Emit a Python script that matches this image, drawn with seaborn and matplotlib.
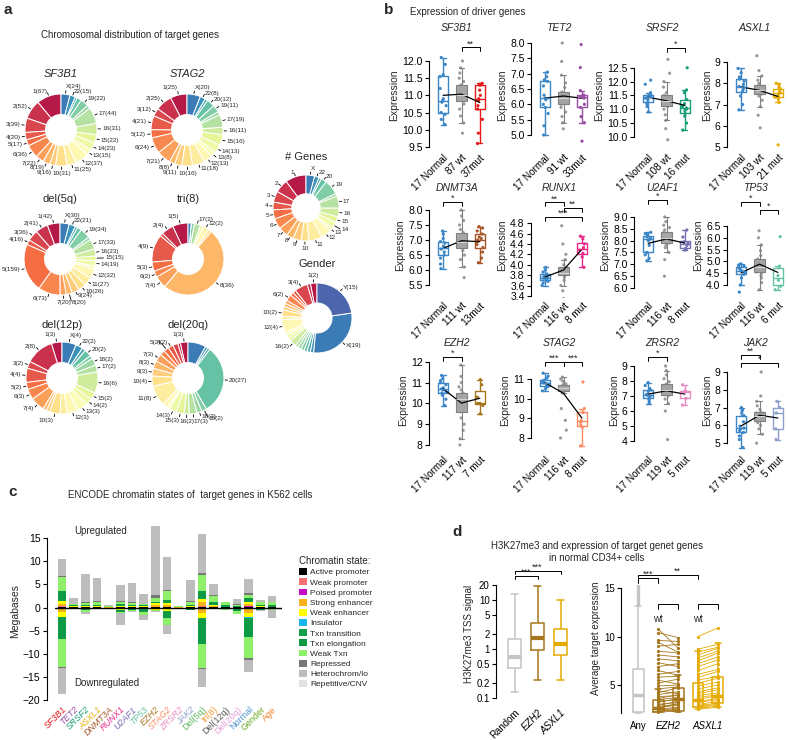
"""Multi-panel figure: chromosome donuts, driver-gene expression, chromatin states, H3K27me3."""

import matplotlib.pyplot as plt
import numpy as np
import pandas as pd
import seaborn as sns
from matplotlib.patches import Patch
from matplotlib.ticker import FormatStrFormatter, NullLocator

sns.set_style("ticks")
plt.rcParams["font.family"] = ["Liberation Sans", "DejaVu Sans"]
plt.rcParams["font.size"] = 7
plt.rcParams["axes.edgecolor"] = "black"
plt.rcParams["axes.linewidth"] = 0.8
plt.rcParams["xtick.color"] = "black"
plt.rcParams["ytick.color"] = "black"
plt.rcParams["xtick.major.size"] = 3
plt.rcParams["ytick.major.size"] = 3
plt.rcParams["xtick.major.width"] = 0.8
plt.rcParams["ytick.major.width"] = 0.8

# ---------------- panel a: chromosome counts ----------------
CHROMS = ["1", "2", "3", "4", "5", "6", "7", "8", "9", "10", "11", "12",
          "13", "14", "15", "16", "17", "18", "19", "20", "21", "22", "X", "Y"]
SF3B1_CHR = [67, 52, 39, 20, 17, 36, 22, 19, 16, 31, 25, 37, 15, 23, 22, 31, 44, 10, 22, 12, 6, 15, 24]
STAG2_CHR = [25, 25, 12, 21, 12, 24, 21, 8, 11, 16, 18, 13, 8, 13, 16, 11, 19, 5, 11, 12, 4, 8, 20]
DEL5Q_CHR = [42, 41, 36, 16, 159, 73, 20, 20, 24, 26, 27, 32, 10, 19, 15, 23, 33, 10, 34, 14, 8, 21, 30]
TRI8_CHR = [5, 4, 1, 9, 3, 2, 4, 36, 0, 1, 0, 2, 0, 1, 0, 0, 2, 0, 1, 0, 0, 0, 1]
DEL12P_CHR = [3, 8, 2, 4, 2, 3, 4, 1, 1, 3, 2, 3, 3, 2, 2, 6, 2, 2, 1, 2, 1, 2, 4]
DEL20Q_CHR = [3, 1, 2, 2, 2, 2, 3, 3, 3, 4, 8, 2, 1, 3, 3, 2, 3, 2, 2, 27, 1, 1, 7]
GENES_CHR = [2050, 1300, 1080, 760, 880, 1040, 940, 690, 790, 750, 1300, 1030,
             330, 610, 600, 860, 1180, 270, 1470, 550, 240, 450, 840]
GENDER_CHR = [2, 1, 4, 1, 1, 2, 1, 1, 1, 2, 1, 4, 1, 1, 1, 2, 1, 1, 1, 1, 1, 1, 19, 15]

SF3B1_LAB = ["1", "2", "3", "4", "5", "6", "7", "8", "9", "10", "11", "12", "13", "14",
             "15", "16", "17", "19", "22", "X"]
STAG2_LAB = ["1", "2", "3", "4", "5", "6", "7", "8", "9", "10", "11", "12", "13", "14",
             "15", "16", "17", "19", "20", "22", "X"]
DEL5Q_LAB = ["1", "2", "3", "4", "5", "6", "7", "8", "9", "10", "11", "12", "14",
             "15", "16", "17", "19", "22", "X"]
TRI8_LAB = ["1", "2", "4", "5", "6", "7", "8", "12", "17"]
DEL12P_LAB = ["1", "2", "3", "4", "5", "6", "7", "10", "12", "13", "14", "15", "16",
              "17", "18", "20", "22", "X"]
DEL20Q_LAB = ["1", "4", "5", "7", "8", "9", "10", "11", "14", "15", "16", "17", "18", "19", "20"]
GENES_LAB = ["1", "2", "3", "4", "5", "6", "7", "8", "9", "10", "11", "12", "13", "14",
             "15", "16", "17", "19", "20", "22", "X"]
GENDER_LAB = ["1", "3", "6", "10", "12", "16", "X", "Y"]

# ---------------- panel b: expression values ----------------
EXPR_GENES = ["SF3B1", "TET2", "SRSF2", "ASXL1", "DNMT3A", "RUNX1",
              "U2AF1", "TP53", "EZH2", "STAG2", "ZRSR2", "JAK2"]
MUT_COLORS = {"SF3B1": "#e41a1c", "TET2": "#984ea3", "SRSF2": "#1b9e77", "ASXL1": "#e6ab02",
              "DNMT3A": "#a65628", "RUNX1": "#e7298a", "U2AF1": "#7570b3", "TP53": "#66c2a5",
              "EZH2": "#a6761d", "STAG2": "#fc8d62", "ZRSR2": "#e78ac3", "JAK2": "#8da0cb"}
N_LABELS = {"SF3B1": ["87 wt", "37mut"], "TET2": ["91 wt", "33mut"], "SRSF2": ["108 wt", "16 mut"],
            "ASXL1": ["103 wt", "21 mut"], "DNMT3A": ["111 wt", "13mut"], "RUNX1": ["116 wt", "8 mut"],
            "U2AF1": ["116 wt", "8 mut"], "TP53": ["116 wt", "6 mut"], "EZH2": ["117 wt", "7 mut"],
            "STAG2": ["116 wt", "8 mut"], "ZRSR2": ["119 wt", "5 mut"], "JAK2": ["119 wt", "5 mut"]}
NORMAL_VALUES = {
    "SF3B1": [10.15, 10.3, 10.45, 10.5, 10.7, 10.8, 10.85, 10.9, 11.2, 11.55, 11.6, 11.9, 12.1],
    "TET2": [5.0, 5.3, 5.7, 5.9, 6.0, 6.15, 6.2, 6.3, 6.6, 6.75, 6.8, 6.9, 7.05],
    "SRSF2": [10.9, 11.1, 11.2, 11.25, 11.35, 11.4, 11.45, 11.47, 11.48, 11.5, 11.6, 11.9, 12.05],
    "ASXL1": [6.75, 7.0, 7.4, 7.6, 7.7, 7.8, 7.85, 7.95, 8.1, 8.2, 8.3, 8.5, 8.7],
    "DNMT3A": [6.05, 6.2, 6.4, 6.5, 6.6, 6.7, 6.75, 6.8, 6.9, 6.95, 7.05, 7.2, 7.3],
    "RUNX1": [3.6, 3.65, 3.68, 3.7, 3.72, 3.74, 3.75, 3.77, 3.8, 3.82, 3.86, 3.9, 3.95],
    "U2AF1": [7.15, 7.25, 7.4, 7.5, 7.8, 8.0, 8.05, 8.1, 8.15, 8.2, 8.25, 8.3, 8.35],
    "TP53": [3.7, 4.0, 4.3, 4.45, 4.5, 4.55, 4.6, 4.65, 4.7, 4.75, 4.8, 4.85, 4.9],
    "EZH2": [9.9, 10.2, 10.4, 10.5, 10.55, 10.65, 10.7, 10.75, 10.9, 11.0, 11.1, 11.2, 11.35],
    "STAG2": [10.4, 10.5, 10.6, 10.65, 10.7, 10.75, 10.8, 10.85, 10.9, 10.95, 11.05, 11.15, 11.3],
    "ZRSR2": [6.5, 6.65, 6.8, 6.85, 6.9, 7.0, 7.05, 7.1, 7.3, 7.4, 7.5, 7.7, 7.9],
    "JAK2": [4.75, 5.2, 5.4, 5.6, 5.7, 5.8, 5.85, 5.95, 6.2, 6.55, 6.7, 6.85, 7.0],
}
WT_VALUES = {
    "SF3B1": [9.9, 10.2, 10.4, 10.6, 10.75, 10.85, 10.9, 10.95, 10.97, 10.99, 11.0, 11.05, 11.1,
              11.15, 11.25, 11.3, 11.4, 11.5, 11.65, 11.8, 12.0],
    "TET2": [5.2, 5.4, 5.6, 5.75, 5.9, 6.0, 6.05, 6.1, 6.15, 6.18, 6.2, 6.23, 6.27, 6.32, 6.37,
             6.4, 6.55, 6.7, 6.95, 7.4, 8.0],
    "SRSF2": [9.9, 10.3, 10.6, 10.8, 11.0, 11.1, 11.15, 11.2, 11.25, 11.28, 11.3, 11.33, 11.37,
              11.42, 11.46, 11.5, 11.6, 11.8, 12.0, 12.3, 12.8],
    "ASXL1": [5.9, 6.5, 6.9, 7.2, 7.4, 7.5, 7.55, 7.6, 7.65, 7.68, 7.7, 7.73, 7.77, 7.82, 7.86,
              7.9, 8.0, 8.15, 8.35, 8.6, 9.3],
    "DNMT3A": [5.75, 6.1, 6.35, 6.5, 6.65, 6.75, 6.8, 6.85, 6.9, 6.93, 6.95, 7.0, 7.08, 7.15,
               7.2, 7.25, 7.35, 7.5, 7.65, 7.8, 8.0],
    "RUNX1": [3.35, 3.5, 3.6, 3.7, 3.76, 3.8, 3.81, 3.82, 3.83, 3.84, 3.85, 3.87, 3.89, 3.91,
              3.93, 3.95, 4.0, 4.1, 4.2, 4.4, 4.75],
    "U2AF1": [6.5, 7.2, 7.5, 7.7, 7.8, 7.9, 7.95, 8.0, 8.05, 8.08, 8.1, 8.14, 8.2, 8.25, 8.3,
              8.35, 8.45, 8.55, 8.65, 8.8, 9.0],
    "TP53": [3.8, 4.1, 4.3, 4.4, 4.5, 4.55, 4.6, 4.65, 4.7, 4.72, 4.75, 4.8, 4.88, 4.95, 5.03,
             5.1, 5.25, 5.45, 5.7, 6.0, 6.3],
    "EZH2": [8.0, 8.3, 8.7, 9.0, 9.3, 9.6, 9.75, 9.9, 10.0, 10.1, 10.2, 10.25, 10.3, 10.4, 10.45,
             10.5, 10.65, 10.8, 11.0, 11.3, 11.85],
    "STAG2": [8.0, 8.4, 8.9, 9.5, 10.3, 10.4, 10.45, 10.48, 10.5, 10.53, 10.55, 10.57, 10.6,
              10.63, 10.66, 10.7, 10.75, 10.8, 10.9, 11.0, 11.1],
    "ZRSR2": [4.1, 6.0, 6.5, 6.8, 7.0, 7.1, 7.15, 7.2, 7.3, 7.35, 7.4, 7.45, 7.55, 7.65, 7.75,
              7.8, 7.95, 8.15, 8.4, 8.7, 9.0],
    "JAK2": [5.0, 5.5, 5.8, 6.0, 6.15, 6.25, 6.3, 6.35, 6.4, 6.45, 6.5, 6.55, 6.6, 6.65, 6.7,
             6.75, 6.9, 7.1, 7.35, 7.65, 9.0],
}
MUT_VALUES = {
    "SF3B1": [9.6, 9.9, 10.3, 10.6, 10.7, 10.85, 10.9, 11.0, 11.15, 11.3, 11.3, 11.32, 11.35],
    "TET2": [4.8, 5.4, 5.6, 5.9, 6.0, 6.2, 6.25, 6.27, 6.28, 6.3, 6.45, 7.2, 7.95],
    "SRSF2": [10.25, 10.5, 10.75, 10.85, 10.95, 11.0, 11.05, 11.1, 11.2, 11.35, 11.6, 11.7, 12.5],
    "ASXL1": [5.1, 7.1, 7.25, 7.35, 7.4, 7.5, 7.55, 7.6, 7.7, 7.75, 7.8, 7.9, 8.0],
    "DNMT3A": [6.25, 6.4, 6.6, 6.75, 6.85, 6.95, 7.0, 7.05, 7.1, 7.2, 7.3, 7.4, 7.45],
    "RUNX1": [3.95, 4.15, 4.22, 4.28, 4.33, 4.4, 4.5, 4.55],
    "U2AF1": [7.6, 7.63, 7.68, 7.8, 7.9, 7.95, 8.15, 8.45],
    "TP53": [3.8, 3.95, 4.2, 4.4, 4.8, 6.05],
    "EZH2": [9.5, 9.9, 10.0, 10.0, 10.3, 10.9, 11.15],
    "STAG2": [7.6, 8.55, 8.65, 8.8, 8.9, 9.3, 9.5, 10.85],
    "ZRSR2": [6.4, 6.85, 7.3, 7.35, 7.75],
    "JAK2": [5.2, 5.8, 6.7, 7.0, 7.35],
}
# significance brackets: (group i, group j, label, height)
EXPR_SIG = {
    "SF3B1": [(1, 2, "**", 12.4)], "TET2": [], "SRSF2": [(1, 2, "*", 13.22)], "ASXL1": [],
    "DNMT3A": [(0, 1, "*", 8.27)],
    "RUNX1": [(0, 1, "**", 5.2), (1, 2, "**", 5.09), (0, 2, "***", 4.92)],
    "U2AF1": [(0, 1, "*", 9.72)], "TP53": [(0, 1, "*", 7.52), (1, 2, "*", 7.18)],
    "EZH2": [(0, 1, "*", 12.24)], "STAG2": [(0, 1, "***", 11.86), (1, 2, "***", 11.86)],
    "ZRSR2": [(0, 1, "*", 9.6)], "JAK2": [(0, 1, "**", 9.96), (0, 2, "*", 9.5)],
}
EXPR_YLIM = {"SF3B1": (9.41, 12.61), "TET2": (4.51, 8.1), "SRSF2": (9.53, 13.5), "ASXL1": (4.86, 10.04),
             "DNMT3A": (5.07, 8.6), "RUNX1": (3.36, 5.4), "U2AF1": (5.58, 10.05), "TP53": (3.45, 7.94),
             "EZH2": (7.66, 12.67), "STAG2": (7.29, 12.58), "ZRSR2": (3.27, 10.2), "JAK2": (4.5, 10.35)}
EXPR_TICKS = {"SF3B1": (9.5, 12.0, 0.5), "TET2": (5.0, 8.0, 0.5), "SRSF2": (10.0, 12.5, 0.5),
              "ASXL1": (5, 9, 1), "DNMT3A": (5.5, 8.0, 0.5), "RUNX1": (3.4, 4.8, 0.2),
              "U2AF1": (6.0, 9.0, 0.5), "TP53": (4.0, 6.5, 0.5), "EZH2": (8, 12, 1),
              "STAG2": (8, 11, 1), "ZRSR2": (4, 9, 1), "JAK2": (5, 9, 1)}

# ---------------- panel c: chromatin states (Mb) ----------------
STATES = ["Active promoter", "Weak promoter", "Poised promoter", "Strong enhancer",
          "Weak enhancer", "Insulator", "Txn transition", "Txn elongation", "Weak Txn",
          "Repressed", "Heterochrom/lo", "Repetitive/CNV"]
STATE_COLORS = ["#000000", "#f47171", "#c40cc4", "#f7b21c", "#ffff00", "#18b4ef",
                "#10a04c", "#0c9a46", "#8ef06a", "#777777", "#bdbdbd", "#e2e2e2"]
CHROM_GROUPS = ["SF3B1", "TET2", "SRSF2", "ASXL1", "DNMT3A", "RUNX1", "U2AF1", "TP53", "EZH2",
                "STAG2", "ZRSR2", "JAK2", "Del(5q)", "tri(8)", "Del(12q)", "Del(20q)",
                "Normal", "Gender", "Age"]
GROUP_COLORS = ["#e41a1c", "#984ea3", "#1b9e77", "#e6ab02", "#a65628", "#e7298a", "#7570b3",
                "#66c2a5", "#a6761d", "#fc8d62", "#e78ac3", "#8da0cb", "#5cb85c", "#f59b3a",
                "#555555", "#e6a3dc", "#4f95d0", "#66a61e", "#f07f2e"]
CHROM_UP = [
    [0.15, 0.1, 0.05, 0.55, 0.6, 0.05, 0.35, 1.65, 3.1, 0.3, 3.6, 0],
    [0.02, 0.02, 0, 0.1, 0.15, 0, 0.05, 0.15, 0.3, 0.05, 1.15, 0],
    [0.02, 0.02, 0, 0.1, 0.15, 0, 0.05, 0.2, 0.5, 0.15, 6.1, 0],
    [0.02, 0.02, 0, 0.1, 0.15, 0, 0.05, 0.2, 0.7, 0.1, 4.96, 0],
    [0, 0, 0, 0.05, 0.05, 0, 0, 0.05, 0.1, 0, 0.25, 0],
    [0.02, 0.02, 0, 0.15, 0.2, 0, 0.05, 0.3, 0.5, 0.1, 3.56, 0],
    [0.02, 0.02, 0, 0.1, 0.15, 0, 0.05, 0.2, 0.4, 0.15, 4.31, 0],
    [0.02, 0.02, 0, 0.1, 0.1, 0, 0.05, 0.15, 0.35, 0.05, 2.16, 0],
    [0.05, 0.05, 0.05, 0.35, 0.5, 0, 0.05, 0.2, 0.8, 0.55, 15.0, 0],
    [0.05, 0.05, 0.02, 0.4, 0.5, 0, 0.1, 0.6, 1.8, 0.3, 7.18, 0],
    [0, 0, 0, 0.05, 0.05, 0, 0, 0.05, 0.1, 0, 0.05, 0],
    [0.02, 0.02, 0, 0.1, 0.15, 0, 0.05, 0.3, 0.6, 0.1, 4.56, 0],
    [0.2, 0.1, 0.05, 0.75, 0.7, 0.05, 0.3, 1.35, 3.5, 0.4, 8.4, 0],
    [0.02, 0.02, 0, 0.2, 0.3, 0, 0.05, 0.5, 1.5, 0.1, 2.31, 0],
    [0.02, 0.02, 0, 0.05, 0.1, 0, 0.05, 0.4, 0.56, 0, 0, 0],
    [0.02, 0.02, 0, 0.05, 0.1, 0, 0.02, 0.1, 0.3, 0.05, 1.24, 0],
    [0.15, 0.05, 0.03, 0.5, 0.47, 0, 0.1, 0.7, 0.8, 0.4, 2.9, 0],
    [0.02, 0.02, 0, 0.05, 0.15, 0, 0.05, 0.3, 0.5, 0.05, 0.46, 0],
    [0.02, 0.02, 0, 0.05, 0.1, 0, 0.05, 0.2, 0.8, 0.05, 1.21, 0],
]
CHROM_DOWN = [
    [0.2, 0.1, 0.05, 0.7, 0.9, 0.05, 0.4, 4.4, 6.0, 0.3, 5.6, 0],
    [0, 0, 0, 0.05, 0.05, 0, 0, 0.05, 0.1, 0, 0.1, 0],
    [0.02, 0.02, 0, 0.1, 0.1, 0, 0.05, 0.25, 0.35, 0.05, 0.45, 0],
    [0, 0, 0, 0.05, 0.1, 0, 0, 0.05, 0.1, 0, 0, 0],
    [0, 0, 0, 0, 0.05, 0, 0, 0, 0.05, 0, 0, 0],
    [0.02, 0.02, 0, 0.15, 0.25, 0, 0.05, 0.4, 0.3, 0.05, 2.46, 0],
    [0.02, 0.02, 0, 0.05, 0.1, 0, 0.05, 0.3, 0.3, 0, 0.16, 0],
    [0.02, 0.02, 0, 0.1, 0.15, 0, 0.05, 0.6, 0.6, 0.05, 1.21, 0],
    [0.02, 0.02, 0.02, 0.2, 0.3, 0, 0, 0.05, 0.1, 0.05, 0.14, 0],
    [0.05, 0.05, 0.02, 0.3, 0.4, 0, 0.1, 1.3, 1.5, 0.1, 1.98, 0],
    [0, 0, 0, 0, 0.05, 0, 0, 0, 0.05, 0, 0, 0],
    [0.02, 0.02, 0, 0.05, 0.1, 0, 0.05, 0.2, 0.15, 0, 0, 0],
    [0.2, 0.1, 0.05, 0.9, 1.0, 0.05, 0.5, 5.0, 5.3, 0.2, 3.9, 0],
    [0.02, 0.02, 0, 0.05, 0.1, 0, 0.02, 0.05, 0.04, 0, 0, 0],
    [0.02, 0.02, 0, 0.05, 0.1, 0, 0.05, 0.1, 0.16, 0, 0, 0],
    [0.02, 0.02, 0, 0.05, 0.15, 0, 0.05, 0.5, 0.56, 0.05, 0.1, 0],
    [0.2, 0.1, 0.05, 0.9, 0.9, 0.05, 0.4, 3.7, 4.7, 0.3, 2.6, 0],
    [0.02, 0.02, 0, 0.05, 0.1, 0, 0.05, 0.2, 0.2, 0, 0.06, 0],
    [0.02, 0.02, 0, 0.05, 0.1, 0, 0.02, 0.1, 0.3, 0, 1.69, 0],
]

# ---------------- panel d ----------------
H3K_GROUPS = ["Random", "EZH2", "ASXL1"]
H3K_COLORS = ["#c4c4c4", "#a6761d", "#e6ab02"]
# five-number summaries (min, q1, median, q3, max)
H3K_SUMMARY = [[0.13, 0.4, 0.68, 1.6, 13.0], [0.23, 0.95, 1.7, 3.3, 19.0], [0.23, 0.75, 1.25, 2.6, 10.0]]
TGT_GROUPS = ["Any", "EZH2 wt", "EZH2 mut", "ASXL1 wt", "ASXL1 mut"]
TGT_COLORS = ["#c4c4c4", "#a6761d", "#a6761d", "#e6ab02", "#e6ab02"]
TGT_SUMMARY = [[2.1, 2.2, 4.0, 6.7, 13.2], [2.2, 2.25, 2.6, 3.45, 4.6], [2.2, 2.3, 3.6, 4.7, 6.0],
               [2.5, 2.7, 3.45, 5.2, 8.5], [2.7, 3.1, 3.9, 5.8, 9.3]]
ANY_HIGH = [13.4, 13.6, 13.8, 14.0, 14.2, 14.4, 14.6, 14.8, 15.0, 15.2]
EZH2_WT = [10.8, 10.4, 9.6, 9.4, 9.0, 8.5, 8.1, 7.7, 7.3, 6.9, 6.5, 6.1, 5.8, 5.5, 5.2, 4.9, 4.6,
           4.4, 4.2, 4.0, 3.8, 3.6, 3.5, 3.3, 3.2, 3.0, 2.9, 2.8, 2.7, 2.6, 2.5, 2.4, 2.3, 2.3, 2.2]
EZH2_MUT = [8.8, 9.9, 9.5, 8.4, 9.2, 8.3, 7.9, 7.5, 6.9, 7.2, 6.0, 6.4, 5.9, 5.1, 5.6, 5.0, 4.8,
            4.1, 4.7, 4.3, 3.9, 4.0, 3.7, 3.5, 3.6, 3.2, 3.3, 3.0, 2.9, 3.1, 2.7, 2.6, 2.5, 2.4, 2.3]
ASXL1_WT = [10.0, 8.7, 8.4, 8.1, 7.8, 7.5, 7.2, 6.9, 6.5, 6.1, 5.8, 5.5, 5.2, 4.9, 4.6, 4.3, 4.1,
            3.9, 3.7, 3.5, 3.3, 3.2, 3.0, 2.9, 2.8, 2.7, 2.6, 2.5]
ASXL1_MUT = [10.9, 9.2, 8.9, 8.8, 8.5, 8.3, 7.9, 7.6, 7.2, 6.6, 6.4, 5.9, 5.7, 5.3, 5.0, 4.7, 4.5,
             4.2, 4.0, 3.9, 3.6, 3.5, 3.3, 3.1, 3.0, 2.9, 2.8, 2.7]

NORMAL_COLOR = "#3a86c6"
WT_POINT = "#9a9a9a"
W, H = 788, 740

fig = plt.figure(figsize=(W / 100, H / 100), dpi=100)


def add_ax(x0, y0, x1, y1):
    return fig.add_axes([x0 / W, 1 - y1 / H, (x1 - x0) / W, (y1 - y0) / H])


def ftext(x, y, s, **kw):
    fig.text(x / W, 1 - y / H, s, **kw)


# ---------------- panel a ----------------
CHR_PAL = sns.color_palette("Spectral", 24)


def donut(cx, cy, r, counts, labeled, title, ty, italic=False, counts_in_label=True):
    ax = add_ax(cx - r, cy - r, cx + r, cy + r)
    wedges, _ = ax.pie(counts, colors=CHR_PAL[:len(counts)], startangle=90, counterclock=True,
                       wedgeprops=dict(width=0.57, edgecolor="white", linewidth=0.7))
    placed = []
    for w, name, n in zip(wedges, CHROMS, counts):
        if name not in labeled:
            continue
        ang = np.deg2rad((w.theta1 + w.theta2) / 2)
        c, s = np.cos(ang), np.sin(ang)
        rad = 1.14
        # push crowded labels outward so neighbours stay readable
        while placed and min(np.hypot(rad * c - px, rad * s - py) for px, py in placed) < 0.2 \
                and rad < 1.45:
            rad += 0.11
        placed.append((rad * c, rad * s))
        ax.plot([1.03 * c, (rad - 0.04) * c], [1.03 * s, (rad - 0.04) * s], color="black",
                lw=0.6, clip_on=False)
        ha = "left" if c > 0.1 else ("right" if c < -0.1 else "center")
        va = "center" if abs(c) > 0.25 else ("bottom" if s > 0 else "top")
        txt = f"{name}({n})" if counts_in_label else name
        ax.text(rad * c, rad * s, txt, ha=ha, va=va, fontsize=4.6, clip_on=False)
    ax.set_xlim(-1, 1)
    ax.set_ylim(-1, 1)
    ax.axis("off")
    ftext(cx, ty, title, ha="center", va="center", fontsize=8,
          fontstyle="italic" if italic else "normal")


ftext(4, 10, "a", fontsize=11, fontweight="bold", va="center")
ftext(130, 35, "Chromosomal distribution of target genes", ha="center", va="center", fontsize=7)
donut(61, 130, 36, SF3B1_CHR, SF3B1_LAB, "SF3B1", 74, italic=True)
donut(187, 130, 36, STAG2_CHR, STAG2_LAB, "STAG2", 74, italic=True)
donut(60, 259, 36, DEL5Q_CHR, DEL5Q_LAB, "del(5q)", 199)
donut(188, 259, 36, TRI8_CHR, TRI8_LAB, "tri(8)", 199)
donut(62, 378, 36, DEL12P_CHR, DEL12P_LAB, "del(12p)", 325)
donut(188, 378, 36, DEL20Q_CHR, DEL20Q_LAB, "del(20q)", 325)
donut(306, 208, 33, GENES_CHR, GENES_LAB, "# Genes", 157, counts_in_label=False)
donut(317, 318, 35, GENDER_CHR, GENDER_LAB, "Gender", 264)

# ---------------- panel b ----------------
ftext(384, 10, "b", fontsize=11, fontweight="bold", va="center")
ftext(410, 12, "Expression of driver genes", ha="left", va="center", fontsize=7)
COL_X = [433, 535, 638, 731]
ROW_Y = [(40, 150, 28), (192, 298, 188), (348, 452, 343)]
ORDER = ["Normal", "wt", "mut"]

for k, gene in enumerate(EXPR_GENES):
    row, col = divmod(k, 4)
    top, bot, ty = ROW_Y[row]
    ax = add_ax(COL_X[col], top, COL_X[col] + 57, bot)
    normal, wt, mut = NORMAL_VALUES[gene], WT_VALUES[gene], MUT_VALUES[gene]
    df = pd.DataFrame({"grp": ["Normal"] * len(normal) + ["wt"] * len(wt) + ["mut"] * len(mut),
                       "val": normal + wt + mut})
    pal = {"Normal": NORMAL_COLOR, "wt": WT_POINT, "mut": MUT_COLORS[gene]}
    sns.stripplot(data=df, x="grp", y="val", hue="grp", order=ORDER, hue_order=ORDER, palette=pal,
                  jitter=0.17, size=2.3, linewidth=0, legend=False, ax=ax, zorder=1)
    sns.boxplot(data=df[df.grp != "wt"], x="grp", y="val", hue="grp", order=ORDER, hue_order=ORDER,
                palette=pal, fill=False, width=0.55, linewidth=1.0, showfliers=False,
                legend=False, ax=ax)
    sns.boxplot(data=df[df.grp == "wt"], x="grp", y="val", order=ORDER, color="#a5a5a5",
                linecolor="#808080", width=0.55, linewidth=0.8, showfliers=False, ax=ax,
                medianprops={"color": "#d5d5d5"})
    sns.pointplot(data=df, x="grp", y="val", order=ORDER, estimator="mean", errorbar=None,
                  color="black", markersize=0, linewidth=0.9, ax=ax)
    lo, hi = EXPR_YLIM[gene]
    t0, t1, st = EXPR_TICKS[gene]
    ticks = np.arange(t0, t1 + st / 2, st)
    ax.set_ylim(lo, hi)
    ax.set_yticks(ticks)
    ax.yaxis.set_major_formatter(FormatStrFormatter("%d" if st >= 1 else "%.1f"))
    ax.set_xlim(-0.55, 2.55)
    sns.despine(ax=ax, bottom=True, offset={"left": 3})
    ax.spines["left"].set_bounds(t0, t1)
    ax.set_xticks([0, 1, 2])
    ax.set_xticklabels(["17 Normal"] + N_LABELS[gene], rotation=45, ha="right",
                       rotation_mode="anchor", fontsize=7.2)
    ax.tick_params(axis="x", length=0, pad=2)
    ax.tick_params(axis="y", labelsize=7.5, pad=1.5)
    ax.set_xlabel("")
    ax.set_ylabel("Expression", fontsize=7.5, labelpad=2)
    span = hi - lo
    for i, j, lab, y in EXPR_SIG[gene]:
        ax.plot([i, i, j, j], [y - span * 0.035, y, y, y - span * 0.035], color="black",
                lw=0.7, clip_on=False)
        ax.text((i + j) / 2, y - span * 0.01, lab, ha="center", va="bottom", fontsize=6.5)
    ftext(COL_X[col] + 24, ty, gene, ha="center", va="center", fontsize=7.5, fontstyle="italic")

# ---------------- panel c ----------------
ftext(8, 492, "c", fontsize=11, fontweight="bold", va="center")
ftext(190, 495, "ENCODE chromatin states of  target genes in K562 cells", ha="center",
      va="center", fontsize=7)
axc = add_ax(55, 520, 282, 702)
up = np.array(CHROM_UP)
down = np.array(CHROM_DOWN)
xpos = np.arange(len(CHROM_GROUPS))
b_up = np.zeros(len(CHROM_GROUPS))
b_dn = np.zeros(len(CHROM_GROUPS))
for s, color in enumerate(STATE_COLORS):
    axc.bar(xpos, up[:, s], bottom=b_up, width=0.75, color=color, linewidth=0)
    axc.bar(xpos, -down[:, s], bottom=-b_dn, width=0.75, color=color, linewidth=0)
    b_up += up[:, s]
    b_dn += down[:, s]
axc.axhline(0, color="black", lw=1.0)
axc.set_xlim(-0.6, len(CHROM_GROUPS) - 0.15)
axc.set_ylim(-20.4, 18.9)
axc.set_yticks([-20, -15, -10, -5, 0, 5, 10, 15])
sns.despine(ax=axc, bottom=True, offset={"left": 6})
axc.spines["left"].set_bounds(-20, 15)
axc.set_xticks(xpos)
axc.set_xticklabels(CHROM_GROUPS, rotation=45, ha="right", rotation_mode="anchor", fontsize=6.5)
for k, lab in enumerate(axc.get_xticklabels()):
    lab.set_color(GROUP_COLORS[k])
    if k < 12:
        lab.set_fontstyle("italic")
axc.tick_params(axis="x", length=0, pad=2)
axc.tick_params(axis="y", labelsize=7.5, pad=1.5)
axc.set_ylabel("Megabases", fontsize=7.5, labelpad=2)
axc.text(3.3, 16.5, "Upregulated", ha="center", va="center", fontsize=7)
axc.text(3.8, -16.2, "Downregulated", ha="center", va="center", fontsize=7)
handles = [Patch(facecolor=c, edgecolor="none", label=s) for s, c in zip(STATES, STATE_COLORS)]
fig.legend(handles=handles, title="Chromatin state:", loc="upper left",
           bbox_to_anchor=(296 / W, 1 - 553 / H), frameon=False, fontsize=6,
           title_fontsize=7, handlelength=0.9, handleheight=0.9, handletextpad=0.4,
           labelspacing=0.22, alignment="left", borderaxespad=0)

# ---------------- panel d ----------------
ftext(452, 532, "d", fontsize=11, fontweight="bold", va="center")
ftext(597, 552, "H3K27me3 and expression of target genet genes\nin normal CD34+ cells",
      ha="center", va="center", fontsize=7, linespacing=1.2)

axl = add_ax(503, 562, 572, 705)
dfl = pd.DataFrame({"grp": np.repeat(H3K_GROUPS, 5), "val": np.concatenate(H3K_SUMMARY)})
sns.boxplot(data=dfl, x="grp", y="val", hue="grp", order=H3K_GROUPS, hue_order=H3K_GROUPS,
            palette=H3K_COLORS, fill=False, whis=(0, 100), width=0.6, linewidth=1.1,
            showfliers=False, log_scale=True, legend=False, ax=axl,
            medianprops={"linewidth": 3})
axl.set_ylim(0.072, 59)
axl.set_yticks([0.1, 0.2, 0.5, 1, 2, 5, 10, 20])
axl.set_yticklabels(["0.1", "0.2", "0.5", "1", "2", "5", "10", "20"])
axl.yaxis.set_minor_locator(NullLocator())
axl.set_xlim(-0.5, 2.5)
sns.despine(ax=axl, bottom=True, offset={"left": 5})
axl.spines["left"].set_bounds(0.1, 20)
axl.set_xticks([0, 1, 2])
axl.set_xticklabels(H3K_GROUPS, rotation=45, ha="right", rotation_mode="anchor", fontsize=7)
for lab in axl.get_xticklabels()[1:]:
    lab.set_fontstyle("italic")
axl.tick_params(axis="x", length=0, pad=2)
axl.tick_params(axis="y", labelsize=7, pad=1.5)
axl.set_xlabel("")
axl.set_ylabel("H3K27me3 TSS signal", fontsize=7, labelpad=2)
for i, j, lab, y in [(0, 1, "***", 30.5), (0, 2, "***", 38.6)]:
    axl.plot([i, i, j, j], [y / 1.13, y, y, y / 1.13], color="black", lw=0.7, clip_on=False)
    axl.text((i + j) / 2, y * 0.97, lab, ha="center", va="bottom", fontsize=6.5)

axr = add_ax(628, 562, 728, 715)
dfr = pd.DataFrame({"grp": np.repeat(TGT_GROUPS, 5), "val": np.concatenate(TGT_SUMMARY)})
sns.boxplot(data=dfr, x="grp", y="val", hue="grp", order=TGT_GROUPS, hue_order=TGT_GROUPS,
            palette=TGT_COLORS, fill=False, whis=(0, 100), width=0.55, linewidth=1.1,
            showfliers=False, legend=False, ax=axr, medianprops={"linewidth": 2.5})
sns.stripplot(x=["Any"] * len(ANY_HIGH), y=ANY_HIGH, order=TGT_GROUPS, color="#c4c4c4",
              jitter=0, size=2.5, linewidth=0, ax=axr)
for wt, mut, x0, color in [(EZH2_WT, EZH2_MUT, 1, "#a6761d"), (ASXL1_WT, ASXL1_MUT, 3, "#e6ab02")]:
    pairs = pd.DataFrame({"pid": np.tile(np.arange(len(wt)), 2),
                          "pos": [x0] * len(wt) + [x0 + 1] * len(mut),
                          "val": wt + mut})
    sns.lineplot(data=pairs, x="pos", y="val", units="pid", estimator=None, color=color,
                 lw=0.6, marker="o", markersize=2.3, markeredgewidth=0, legend=False, ax=axr)
axr.set_ylim(1.9, 17.7)
axr.set_xlim(-0.5, 4.5)
axr.set_yticks([5, 10, 15])
sns.despine(ax=axr, bottom=True, offset={"left": 5})
axr.spines["left"].set_bounds(2.1, 15)
axr.set_xticks([0, 1.5, 3.5])
axr.set_xticklabels(["Any", "EZH2", "ASXL1"], fontsize=7)
for lab in axr.get_xticklabels()[1:]:
    lab.set_fontstyle("italic")
axr.tick_params(axis="x", length=0, pad=4)
axr.tick_params(axis="y", labelsize=7, pad=1.5)
axr.set_xlabel("")
axr.set_ylabel("Average target expression", fontsize=7, labelpad=2)
for i, j, lab, y in [(0, 1, "***", 16.03), (0, 3, "**", 16.4), (1, 2, "", 13.35), (3, 4, "", 13.35)]:
    axr.plot([i, i, j, j], [y - 0.5, y, y, y - 0.5], color="black", lw=0.7, clip_on=False)
    if lab:
        axr.text((i + j) / 2 if j == 1 else 1.95, y - 0.1, lab, ha="center", va="bottom",
                 fontsize=6.5)
axr.text(1, 11.8, "wt", ha="center", va="center", fontsize=7)
axr.text(3, 11.8, "wt", ha="center", va="center", fontsize=7)

fig.savefig("out.png", dpi=100)
